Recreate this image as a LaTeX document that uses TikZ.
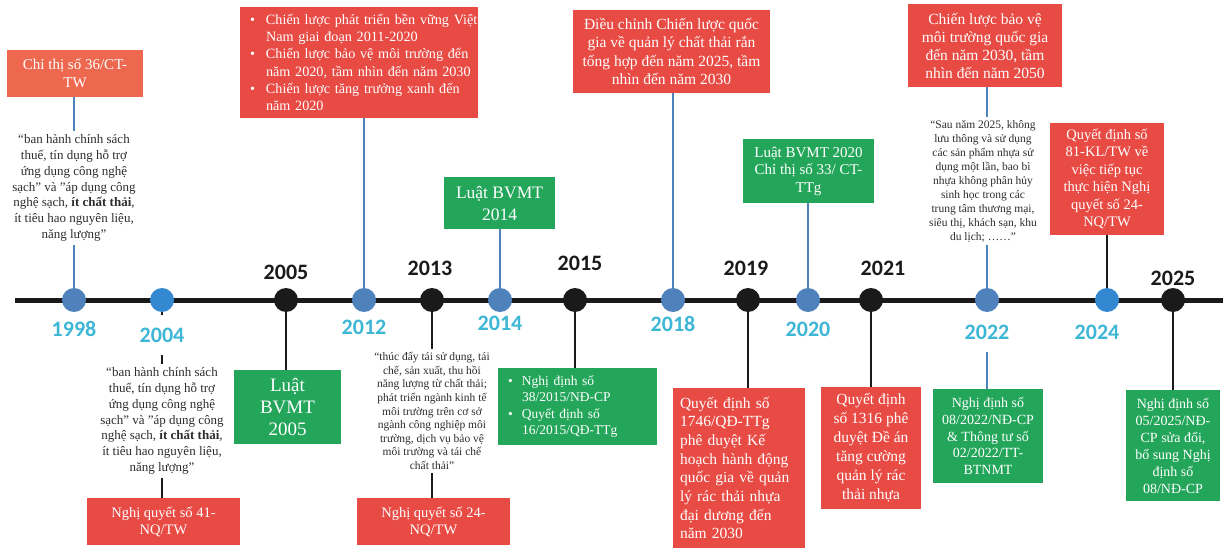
\documentclass[tikz,border=0pt]{standalone}
\usepackage{fontspec}
\setmainfont{Liberation Serif}
\newfontfamily\yearfont{Carlito}
\definecolor{redbox}{RGB}{232,74,68}
\definecolor{coral}{RGB}{238,104,80}
\definecolor{greenbox}{RGB}{36,166,90}
\definecolor{steel}{RGB}{79,129,189}
\definecolor{bright}{RGB}{52,136,210}
\definecolor{cyanyr}{RGB}{62,182,214}
\definecolor{ink}{RGB}{26,26,26}
\definecolor{quotec}{RGB}{45,45,45}
\begin{document}
\begin{tikzpicture}[x=1pt,y=-1pt,
  box/.style={text=white, inner sep=0pt, align=center},
  redb/.style={box, fill=redbox},
  greenb/.style={box, fill=greenbox},
  coralb/.style={box, fill=coral},
  quotet/.style={text=quotec, align=center, inner sep=3pt},
  dotsteel/.style={circle, fill=steel, minimum size=24pt, inner sep=0pt},
  dotbright/.style={circle, fill=bright, minimum size=24pt, inner sep=0pt},
  dotblack/.style={circle, fill=ink, minimum size=24pt, inner sep=0pt},
  yrbase/.style={font=\yearfont\bfseries\fontsize{22}{24}\selectfont, inner sep=0pt},
  yrlow/.style={yrbase, text=cyanyr},
  yrhigh/.style={yrbase, text=ink},
  yrmask/.style={yrlow, fill=white, minimum height=40pt, minimum width=52pt},
  bline/.style={draw=steel, line width=2.2pt},
  kline/.style={draw=ink, line width=2pt},
  axisline/.style={draw=ink, line width=5pt}
]
\useasboundingbox (0,0) rectangle (1223,548);
\fill[white] (0,0) rectangle (1223,548);

% timeline
\coordinate (axL) at (15,300);
\coordinate (axR) at (1223,300);
\draw[axisline] (axL) -- (axR);

% dots
\node[dotsteel]  (c1998) at (74,300) {};
\node[dotbright] (c2004) at (162,300) {};
\node[dotblack]  (c2005) at (286,300) {};
\node[dotsteel]  (c2012) at (364,300) {};
\node[dotblack]  (c2013) at (432,300) {};
\node[dotsteel]  (c2014) at (500,300) {};
\node[dotblack]  (c2015) at (575,300) {};
\node[dotsteel]  (c2018) at (673,300) {};
\node[dotblack]  (c2019) at (748,300) {};
\node[dotsteel]  (c2020) at (808,300) {};
\node[dotblack]  (c2021) at (871,300) {};
\node[dotsteel]  (c2022) at (987,300) {};
\node[dotbright] (c2024) at (1107,300) {};
\node[dotblack]  (c2025) at (1173,300) {};

% boxes
\node[coralb, minimum width=136pt, minimum height=47pt, font=\fontsize{15}{18}\selectfont] (b1998) at (75,73.5) {Chỉ thị số 36/CT-\\TW};

\node[redb, minimum width=238pt, minimum height=111pt, text width=218pt, align=left, font=\fontsize{14.2}{17.3}\selectfont] (b2012) at (359,62.5)
{\mbox{\makebox[16pt][l]{\textbullet}Chiến lược phát triển bền vững Việt}\\
\mbox{\hspace*{16pt}Nam giai đoạn 2011-2020}\\
\mbox{\makebox[16pt][l]{\textbullet}Chiến lược bảo vệ môi trường đến}\\
\mbox{\hspace*{16pt}năm 2020, tầm nhìn đến năm 2030}\\
\mbox{\makebox[16pt][l]{\textbullet}Chiến lược tăng trưởng xanh đến}\\
\mbox{\hspace*{16pt}năm 2020}};

\node[redb, minimum width=153pt, minimum height=47pt, font=\fontsize{14.5}{17}\selectfont] (b2004) at (163.5,521.5) {Nghị quyết số 41-\\NQ/TW};

\node[greenb, minimum width=107pt, minimum height=74pt, font=\fontsize{19}{22}\selectfont] (b2005) at (287.5,407) {Luật\\BVMT\\2005};

\node[redb, minimum width=153pt, minimum height=47pt, font=\fontsize{14.5}{17}\selectfont] (b2013) at (433.5,521.5) {Nghị quyết số 24-\\NQ/TW};

\node[greenb, minimum width=111pt, minimum height=52pt, font=\fontsize{17.5}{22}\selectfont] (b2014) at (499.5,203) {Luật BVMT\\2014};

\node[greenb, minimum width=159pt, minimum height=77pt, text width=139pt, align=left, font=\fontsize{13.5}{15.5}\selectfont] (b2015) at (577.5,406.5)
{\mbox{\makebox[14pt][l]{\textbullet}Nghị định số}\\
\mbox{\hspace*{14pt}38/2015/NĐ-CP}\\[2pt]
\mbox{\makebox[14pt][l]{\textbullet}Quyết định số}\\
\mbox{\hspace*{14pt}16/2015/QĐ-TTg}};

\node[redb, minimum width=197pt, minimum height=83pt, font=\fontsize{15.5}{18.5}\selectfont] (b2018) at (671.5,51.5)
{Điều chỉnh Chiến lược quốc\\gia về quản lý chất thải rắn\\tổng hợp đến năm 2025, tầm\\nhìn đến năm 2030};

\node[redb, minimum width=132pt, minimum height=160pt, text width=118pt, align=left, font=\fontsize{15.5}{18.7}\selectfont] (b2019) at (739,468)
{Quyết định số\\1746/QĐ-TTg\\phê duyệt Kế\\hoạch hành động\\quốc gia về quản\\lý rác thải nhựa\\đại dương đến\\năm 2030};

\node[greenb, minimum width=131pt, minimum height=64pt, font=\fontsize{15}{17.5}\selectfont] (b2020) at (808.5,171)
{Luật BVMT 2020\\Chỉ thị số 33/ CT-\\TTg};

\node[redb, minimum width=100pt, minimum height=122pt, font=\fontsize{15.5}{19}\selectfont] (b2021) at (871,448)
{Quyết định\\số 1316 phê\\duyệt Đề án\\tăng cường\\quản lý rác\\thải nhựa};

\node[redb, minimum width=154pt, minimum height=83pt, font=\fontsize{15.5}{18}\selectfont] (b2022) at (985,45.5)
{Chiến lược bảo vệ\\môi trường quốc gia\\đến năm 2030, tầm\\nhìn đến năm 2050};

\node[greenb, minimum width=110pt, minimum height=94pt, font=\fontsize{14}{16.7}\selectfont] (b2022n) at (988,436)
{Nghị định số\\08/2022/NĐ-CP\\\& Thông tư số\\02/2022/TT-\\BTNMT};

\node[redb, minimum width=114pt, minimum height=112pt, font=\fontsize{14.5}{17.5}\selectfont] (b2024) at (1107,179)
{Quyết định số\\81-KL/TW về\\việc tiếp tục\\thực hiện Nghị\\quyết số 24-\\NQ/TW};

\node[greenb, minimum width=94pt, minimum height=111pt, font=\fontsize{14}{17}\selectfont] (b2025) at (1173,445.5)
{Nghị định số\\05/2025/NĐ-\\CP sửa đổi,\\bổ sung Nghị\\định số\\08/NĐ-CP};

% quotes
\node[quotet, font=\fontsize{13}{15.8}\selectfont] (q1998) at (74,188)
{“ban hành chính sách\\thuế, tín dụng hỗ trợ\\ứng dụng công nghệ\\sạch” và "áp dụng công\\nghệ sạch, \textbf{ít chất thải},\\ít tiêu hao nguyên liệu,\\năng lượng”};

\node[quotet, font=\fontsize{13}{15.8}\selectfont] (q2004) at (162,421)
{“ban hành chính sách\\thuế, tín dụng hỗ trợ\\ứng dụng công nghệ\\sạch” và "áp dụng công\\nghệ sạch, \textbf{ít chất thải},\\ít tiêu hao nguyên liệu,\\năng lượng”};

\node[quotet, font=\fontsize{11.5}{13.6}\selectfont] (q2013) at (432,411)
{“thúc đẩy tái sử dụng, tái\\chế, sản xuất, thu hồi\\năng lượng từ chất thải;\\phát triển ngành kinh tế\\môi trường trên cơ sở\\ngành công nghiệp môi\\trường, dịch vụ bảo vệ\\môi trường và tái chế\\chất thải”};

\node[quotet, font=\fontsize{11.5}{14}\selectfont] (q2022) at (983,181)
{“Sau năm 2025, không\\lưu thông và sử dụng\\các sản phẩm nhựa sử\\dụng một lần, bao bì\\nhựa không phân hủy\\sinh học trong các\\trung tâm thương mại,\\siêu thị, khách sạn, khu\\du lịch; ……”};

% connectors
\draw[bline] (b1998.south -| c1998) -- (q1998.north -| c1998);
\draw[bline] (q1998.south -| c1998) -- (c1998.north);
\draw[kline] (c2004.south) -- (q2004.north -| c2004);
\draw[kline] (q2004.south -| c2004) -- (b2004.north -| c2004);
\draw[kline] (c2005.south) -- (b2005.north -| c2005);
\draw[bline] (b2012.south -| c2012) -- (c2012.north);
\draw[kline] (c2013.south) -- (q2013.north -| c2013);
\draw[kline] (q2013.south -| c2013) -- (b2013.north -| c2013);
\draw[bline] (b2014.south -| c2014) -- (c2014.north);
\draw[kline] (c2015.south) -- (b2015.north -| c2015);
\draw[bline] (b2018.south -| c2018) -- (c2018.north);
\draw[kline] (c2019.south) -- (b2019.north -| c2019);
\draw[bline] (b2020.south -| c2020) -- (c2020.north);
\draw[kline] (c2021.south) -- (b2021.north -| c2021);
\draw[bline] (b2022.south -| c2022) -- (q2022.north -| c2022);
\draw[bline] (q2022.south -| c2022) -- (c2022.north);
\draw[bline] (c2022.south) -- (b2022n.north -| c2022);
\draw[kline] (b2024.south -| c2024) -- (c2024.north);
\draw[kline] (c2025.south) -- (b2025.north -| c2025);

% year labels
\node[yrlow]  (y1998) at (74,329) {1998};
\node[yrmask] (y2004) at (162,335) {2004};
\node[yrhigh] (y2005) at (286,272) {2005};
\node[yrlow]  (y2012) at (364,327) {2012};
\node[yrhigh] (y2013) at (430,268) {2013};
\node[yrlow]  (y2014) at (500,323) {2014};
\node[yrhigh] (y2015) at (580,263) {2015};
\node[yrlow]  (y2018) at (673,324) {2018};
\node[yrhigh] (y2019) at (746,268) {2019};
\node[yrlow]  (y2020) at (808,329) {2020};
\node[yrhigh] (y2021) at (883,268) {2021};
\node[yrmask] (y2022) at (987,332) {2022};
\node[yrlow]  (y2024) at (1097,332) {2024};
\node[yrhigh] (y2025) at (1173,278) {2025};
\end{tikzpicture}
\end{document}
